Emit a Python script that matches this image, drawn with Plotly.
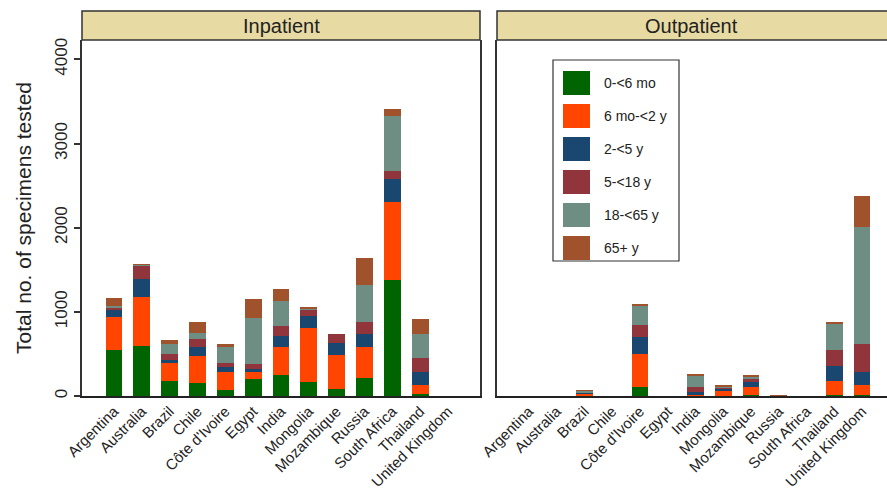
import plotly.graph_objects as go
from plotly.subplots import make_subplots

countries = ["Argentina", "Australia", "Brazil", "Chile", "Côte d'Ivoire", "Egypt", "India",
             "Mongolia", "Mozambique", "Russia", "South Africa", "Thailand", "United Kingdom"]
age_groups = ["0-<6 mo", "6 mo-<2 y", "2-<5 y", "5-<18 y", "18-<65 y", "65+ y"]
colors = ["#006400", "#FF4500", "#1A476F", "#90353B", "#6E8E84", "#A0522D"]

# Inpatient counts per age group (order of countries above)
inp_0_6mo   = [545, 592, 173, 150, 67, 198, 245, 166, 86, 213, 1378, 20, 0]
inp_6mo_2y  = [397, 580, 216, 320, 220, 87, 341, 646, 397, 369, 927, 114, 0]
inp_2_5y    = [80, 217, 44, 111, 59, 39, 130, 142, 150, 155, 274, 148, 0]
inp_5_18y   = [20, 167, 66, 92, 47, 57, 116, 72, 100, 139, 98, 169, 0]
inp_18_65y  = [27, 3, 115, 79, 189, 543, 297, 10, 0, 443, 654, 282, 0]
inp_65p     = [99, 3, 47, 131, 40, 230, 139, 19, 0, 325, 77, 182, 0]

# Outpatient counts per age group
out_0_6mo   = [0, 0, 2, 0, 107, 0, 5, 2, 8, 0, 0, 12, 12]
out_6mo_2y  = [0, 0, 25, 0, 396, 0, 10, 60, 102, 0, 0, 170, 115]
out_2_5y    = [0, 0, 10, 0, 199, 0, 29, 25, 59, 0, 0, 178, 155]
out_5_18y   = [0, 0, 8, 0, 143, 0, 66, 12, 35, 6, 0, 186, 337]
out_18_65y  = [0, 0, 22, 0, 229, 0, 134, 11, 32, 0, 0, 309, 1395]
out_65p     = [0, 0, 4, 0, 17, 0, 19, 20, 3, 4, 0, 27, 368]

panels = ["Inpatient", "Outpatient"]
y_ticks = [0, 1000, 2000, 3000, 4000]

inpatient = [inp_0_6mo, inp_6mo_2y, inp_2_5y, inp_5_18y, inp_18_65y, inp_65p]
outpatient = [out_0_6mo, out_6mo_2y, out_2_5y, out_5_18y, out_18_65y, out_65p]

W, H = 887, 490
L, R, T, B = 82, 0, 40, 94
pw = W - L - R
ph = H - T - B

def px_x(p):
    return (p - L) / pw

def px_y(p):
    return (H - B - p) / ph

fig = make_subplots(rows=1, cols=2, shared_yaxes=False, horizontal_spacing=0.02)

for col, data in enumerate([inpatient, outpatient], start=1):
    for g, vals in enumerate(data):
        fig.add_trace(go.Bar(
            x=countries, y=vals, name=age_groups[g],
            marker=dict(color=colors[g], line=dict(width=0)),
            width=0.6, showlegend=False,
        ), row=1, col=col)

font_family = "Arial, Liberation Sans, sans-serif"
d1 = [0, px_x(480)]
d2 = [px_x(497), 1.0]
xcommon = dict(showline=True, linecolor="#222222", linewidth=1.5, ticks="", tickangle=-45,
               tickfont=dict(size=15), showgrid=False, automargin=False,
               ticklabelstandoff=-1)
fig.update_layout(
    width=W, height=H, barmode="stack", bargap=0.4,
    margin=dict(l=L, r=R, t=T, b=B),
    paper_bgcolor="white", plot_bgcolor="white",
    font=dict(family=font_family, color="#222222"),
    xaxis=dict(domain=d1, range=[-1.15, 13.15], **xcommon),
    xaxis2=dict(domain=d2, range=[-1.15, 12.9], **xcommon),
    yaxis=dict(range=[0, 4230], tickvals=y_ticks, ticks="outside", ticklen=6, tickwidth=1.5,
               tickcolor="#333333", tickangle=-90, tickfont=dict(size=17),
               showline=True, linecolor="#333333", linewidth=1.5, mirror=True,
               showgrid=False, zeroline=False, automargin=False,
               title=dict(text="Total no. of specimens tested", font=dict(size=21))),
    yaxis2=dict(range=[0, 4230], showticklabels=False, ticks="", showline=True,
                linecolor="#333333", linewidth=1.5, showgrid=False, zeroline=False,
                automargin=False),
)

# Panel header strips
strip_top = px_y(11)
centers = [px_x(281), px_x(691)]
for dom, label, cx in zip([d1, d2], panels, centers):
    x1 = dom[1] if dom[1] < 1 else 1.02
    fig.add_shape(type="rect", xref="paper", yref="paper", x0=dom[0], x1=x1,
                  y0=1.0, y1=strip_top, fillcolor="#E8DAA3",
                  line=dict(color="#333333", width=1.5), layer="above")
    fig.add_annotation(xref="paper", yref="paper", x=cx,
                       y=(1.0 + strip_top) / 2, text=label, showarrow=False,
                       font=dict(size=20, color="#222222"), xanchor="center", yanchor="middle")

# Legend (drawn box)
fig.add_shape(type="rect", xref="paper", yref="paper", x0=px_x(553), x1=px_x(679),
              y0=px_y(261), y1=px_y(60), fillcolor="white",
              line=dict(color="#333333", width=1.2))
for k, (name, c) in enumerate(zip(age_groups, colors)):
    top = 71 + 33 * k
    fig.add_shape(type="rect", xref="paper", yref="paper", x0=px_x(563), x1=px_x(590),
                  y0=px_y(top + 24), y1=px_y(top), fillcolor=c, line=dict(width=0))
    fig.add_annotation(xref="paper", yref="paper", x=px_x(602), y=px_y(top + 12),
                       text=name, showarrow=False, xanchor="left", yanchor="middle",
                       font=dict(size=14, color="#222222"))

fig.write_html("out.html", config={"displayModeBar": False},
               post_script="document.body.style.margin='0';document.body.style.overflow='hidden';")
